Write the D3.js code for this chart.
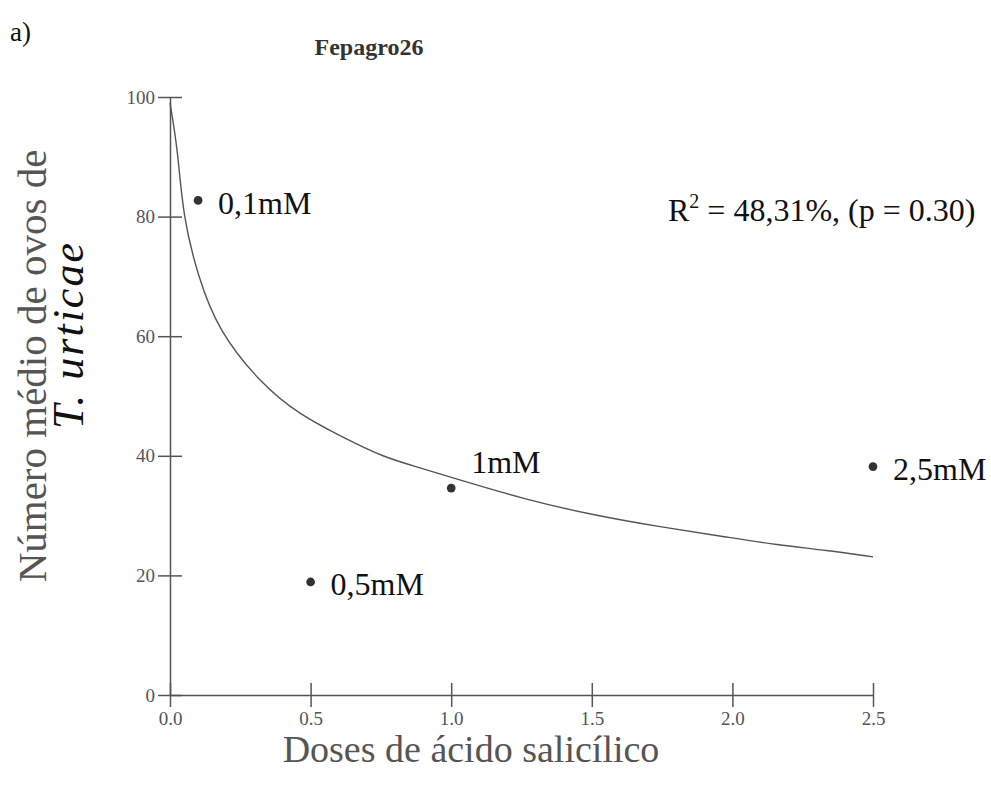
<!DOCTYPE html>
<html>

<head>
  <meta charset="utf-8">
  <script src="https://d3js.org/d3.v7.min.js"></script>
  <style>
    body {
      margin: 0;
      background: white;
    }
  </style>
</head>

<body>
  <script type="text/javascript">
    /*
      data
    */
    var doses = [0.1, 0.5, 1.0, 2.5];
    var ovos = [82.7, 18.9, 34.6, 38.2];
    var doseLabels = ["0,1mM", "0,5mM", "1mM", "2,5mM"];

    // fitted curve, sampled along the drawn line
    var curveX = [0, 0.028, 0.046, 0.10, 0.171, 0.32, 0.462, 0.615, 0.757, 0.889, 1.006,
      1.27, 1.504, 1.743, 1.981, 2.159, 2.336, 2.5];
    var curveY = [99, 91.1, 80.0, 69.9, 61.0, 52.2, 46.8, 43.1, 39.8, 38.0, 36.3,
      32.6, 30.1, 28.1, 26.4, 25.1, 24.2, 23.1];

    var xTicks = [0, 0.5, 1.0, 1.5, 2.0, 2.5];
    var yTicks = [0, 20, 40, 60, 80, 100];

    var W = 991,
      H = 796;
    var plotLeft = 170,
      plotRight = 873,
      plotTop = 97,
      plotBottom = 695;

    var svg = d3.select("body")
      .append("svg")
      .attr("width", W)
      .attr("height", H)
      .style("font-family", "'Liberation Serif', 'Times New Roman', serif");

    var x = d3.scaleLinear().domain([0, 2.5]).range([plotLeft, plotRight]);
    var y = d3.scaleLinear().domain([0, 100]).range([plotBottom, plotTop]);

    /*
      axes - ticks cross the axis line
    */
    var xAxis = d3.axisBottom(x)
      .tickValues(xTicks)
      .tickFormat(d3.format(".1f"))
      .tickSizeInner(12)
      .tickSizeOuter(0)
      .tickPadding(5);
    var gx = svg.append("g")
      .attr("transform", "translate(0," + plotBottom + ")")
      .call(xAxis);
    gx.selectAll(".tick line").attr("y1", -12);

    var yAxis = d3.axisLeft(y)
      .tickValues(yTicks)
      .tickSizeInner(12)
      .tickSizeOuter(0)
      .tickPadding(3);
    var gy = svg.append("g")
      .attr("transform", "translate(" + plotLeft + ",0)")
      .call(yAxis);
    gy.selectAll(".tick line").attr("x1", 12);

    svg.selectAll(".domain, .tick line")
      .attr("stroke", "#555")
      .attr("stroke-width", 1.5);
    svg.selectAll(".tick text")
      .attr("fill", "#555")
      .style("font-family", "'Liberation Serif', serif")
      .style("font-size", "19px");

    /*
      fitted curve
    */
    var line = d3.line()
      .x(function(d, i) { return x(curveX[i]); })
      .y(function(d) { return y(d); })
      .curve(d3.curveBasis);

    svg.append("path")
      .datum(curveY)
      .attr("d", line)
      .attr("fill", "none")
      .attr("stroke", "#555")
      .attr("stroke-width", 1.4);

    /*
      observed means
    */
    svg.selectAll(".pt")
      .data(doses)
      .enter()
      .append("path")
      .attr("class", "pt")
      .attr("d", d3.symbol().type(d3.symbolCircle).size(60))
      .attr("transform", function(d, i) {
        return "translate(" + x(d) + "," + y(ovos[i]) + ")";
      })
      .attr("fill", "#333");

    svg.selectAll(".lbl")
      .data(doses)
      .enter()
      .append("text")
      .attr("class", "lbl")
      .attr("x", function(d) { return x(d) + 20; })
      .attr("y", function(d, i) { return y(ovos[i]) + (i === 2 ? -26 : 2); })
      .attr("dy", "0.35em")
      .style("font-size", "32px")
      .attr("fill", "#111")
      .text(function(d, i) { return doseLabels[i]; });

    /*
      titles and notes
    */
    svg.append("text")
      .attr("x", 10)
      .attr("y", 41)
      .style("font-size", "27px")
      .attr("fill", "#111")
      .text("a)");

    svg.append("text")
      .attr("x", 369)
      .attr("y", 55)
      .attr("text-anchor", "middle")
      .style("font-size", "24px")
      .style("font-weight", "bold")
      .attr("fill", "#333")
      .text("Fepagro26");

    var r2 = svg.append("text")
      .attr("x", 668)
      .attr("y", 221)
      .style("font-size", "32px")
      .attr("fill", "#111");
    r2.append("tspan").text("R");
    r2.append("tspan").attr("dy", -13).style("font-size", "20px").text("2");
    r2.append("tspan").attr("dy", 13).text(" = 48,31%, (p = 0.30)");

    svg.append("text")
      .attr("transform", "translate(46,366) rotate(-90)")
      .attr("text-anchor", "middle")
      .style("font-size", "41px")
      .attr("fill", "#555")
      .text("Número médio de ovos de");

    svg.append("text")
      .attr("transform", "translate(83,335) rotate(-90)")
      .attr("text-anchor", "middle")
      .style("font-size", "44px")
      .style("font-style", "italic")
      .style("letter-spacing", "2px")
      .attr("fill", "#111")
      .text("T. urticae");

    svg.append("text")
      .attr("x", 471)
      .attr("y", 762)
      .attr("text-anchor", "middle")
      .style("font-size", "38px")
      .attr("fill", "#555")
      .text("Doses de ácido salicílico");
  </script>
</body>

</html>
